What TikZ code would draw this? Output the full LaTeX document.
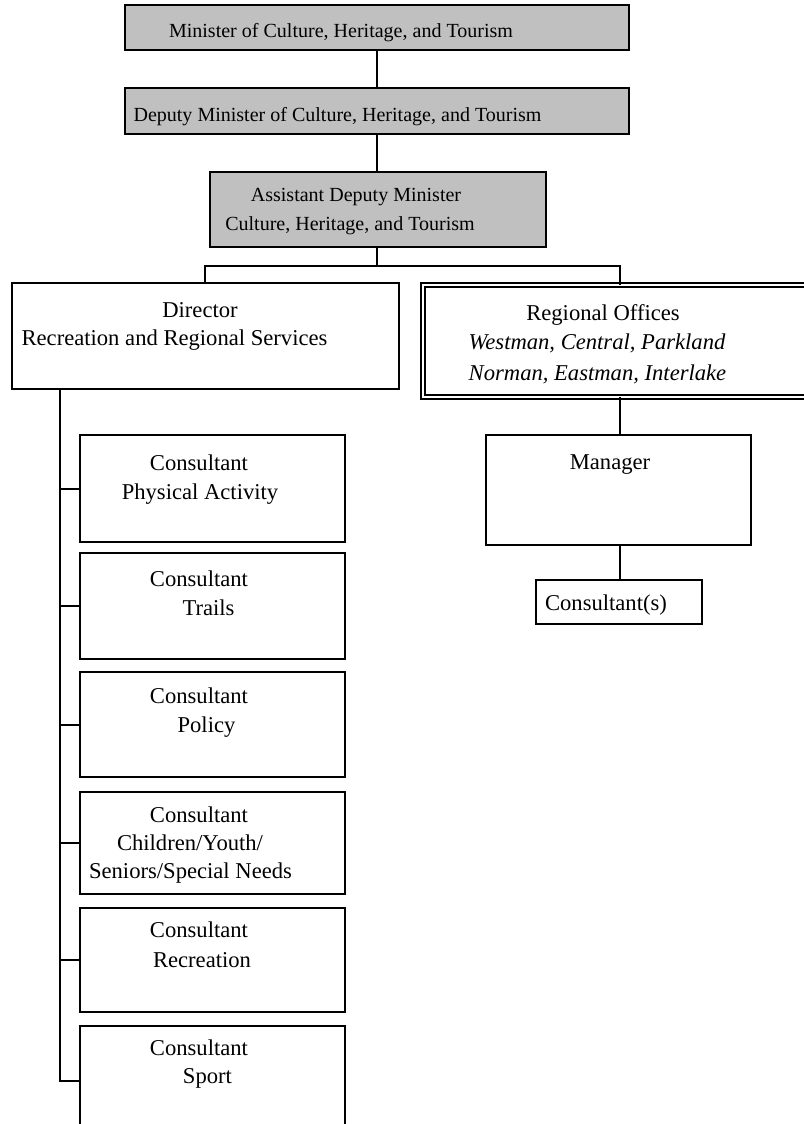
\documentclass[tikz,border=0pt]{standalone}
\usepackage{fontspec}
\setmainfont{Liberation Serif}
\begin{document}
\begin{tikzpicture}[x=1bp,y=-1bp,
  box/.style={draw=black, line width=2bp, rectangle, inner sep=0pt, outer sep=0pt},
  headbox/.style={box, fill=boxgray},
  regbox/.style={draw=black, line width=1.8bp, double=white, double distance=2.4bp, rectangle, inner sep=0pt, outer sep=0pt},
  txt/.style={anchor=base, inner sep=0pt, font=\fontsize{22.7}{27}\selectfont},
  htxt/.style={txt, font=\fontsize{20.1}{24}\selectfont},
  itxt/.style={txt, font=\fontsize{22.7}{27}\selectfont\itshape},
  link/.style={draw=black, line width=2bp}]
\definecolor{boxgray}{RGB}{192,192,192}
\useasboundingbox (0,0) rectangle (804,1124);
\clip (0,0) rectangle (804,1124);
\fill[white] (0,0) rectangle (804,1124);

% executive boxes
\node[headbox, minimum width=504bp, minimum height=45bp, anchor=north west] (min) at (125,5) {};
\node[headbox, minimum width=504bp, minimum height=46bp, anchor=north west] (dep) at (125,88) {};
\node[headbox, minimum width=336bp, minimum height=75bp, anchor=north west] (adm) at (210,172) {};

% branch heads
\node[box, minimum width=387bp, minimum height=106bp, anchor=north west] (dir) at (12,283) {};
\node[regbox, minimum width=390bp, minimum height=112bp, anchor=north west] (reg) at (423,285) {};
\node[box, minimum width=265bp, minimum height=110bp, anchor=north west] (mgr) at (486,435) {};
\node[box, minimum width=166bp, minimum height=44bp, anchor=north west] (cons) at (536,580) {};

% consultant boxes
\node[box, minimum width=265bp, minimum height=107bp, anchor=north west] (pa) at (80,435) {};
\node[box, minimum width=265bp, minimum height=106bp, anchor=north west] (tr) at (80,553) {};
\node[box, minimum width=265bp, minimum height=105bp, anchor=north west] (po) at (80,672) {};
\node[box, minimum width=265bp, minimum height=102bp, anchor=north west] (ch) at (80,792) {};
\node[box, minimum width=265bp, minimum height=104bp, anchor=north west] (re) at (80,908) {};
\node[box, minimum width=265bp, minimum height=110bp, anchor=north west] (sp) at (80,1026) {};

% texts
\node[htxt] (tmin) at (341,37) {Minister of Culture, Heritage, and Tourism};
\node[htxt] (tdep) at (337.5,121) {Deputy Minister of Culture, Heritage, and Tourism};
\node[htxt] (tadma) at (356,201) {Assistant Deputy Minister};
\node[htxt] (tadmb) at (350,230) {Culture, Heritage, and Tourism};
\node[txt] (tdira) at (200,317) {Director};
\node[txt] (tdirb) at (174.5,345) {Recreation and Regional Services};
\node[txt] (trega) at (603,320) {Regional Offices};
\node[itxt] (tregb) at (597,349) {Westman, Central, Parkland};
\node[itxt] (tregc) at (597.5,380) {Norman, Eastman, Interlake};
\node[txt] (tmgr) at (610,469) {Manager};
\node[txt] (tcons) at (606,610) {Consultant(s)};
\node[txt] (tpaa) at (199,470) {Consultant};
\node[txt] (tpab) at (200,499) {Physical Activity};
\node[txt] (ttra) at (199,586) {Consultant};
\node[txt] (ttrb) at (208.5,615) {Trails};
\node[txt] (tpoa) at (199,703) {Consultant};
\node[txt] (tpob) at (206.5,732) {Policy};
\node[txt] (tcha) at (199,822) {Consultant};
\node[txt] (tchb) at (190,850) {Children/Youth/};
\node[txt] (tchc) at (190.5,878) {Seniors/Special Needs};
\node[txt] (trea) at (199,937) {Consultant};
\node[txt] (treb) at (202,967) {Recreation};
\node[txt] (tspa) at (199,1055) {Consultant};
\node[txt] (tspb) at (207.5,1083) {Sport};

% connectors
\coordinate (bar) at (377,266);
\coordinate (dirx) at (205,0);
\coordinate (regx) at (620,0);
\draw[link] (min.south -| bar) -- (dep.north -| bar);
\draw[link] (dep.south -| bar) -- (adm.north -| bar);
\draw[link] (adm.south -| bar) -- (bar);
\draw[link] (dirx |- dir.north) -- (dirx |- bar) -- (regx |- bar) -- (regx |- reg.north);
\draw[link] (regx |- reg.south) -- (regx |- mgr.north);
\draw[link] (regx |- mgr.south) -- (regx |- cons.north);

% trunk from the director down the consultant column
\coordinate (trunk) at (60,0);
\draw[link] (trunk |- dir.south) -- (trunk |- sp.west) -- (sp.west);
\foreach \b in {pa,tr,po,ch,re}
  \draw[link] (trunk |- \b.west) -- (\b.west);
\end{tikzpicture}
\end{document}
